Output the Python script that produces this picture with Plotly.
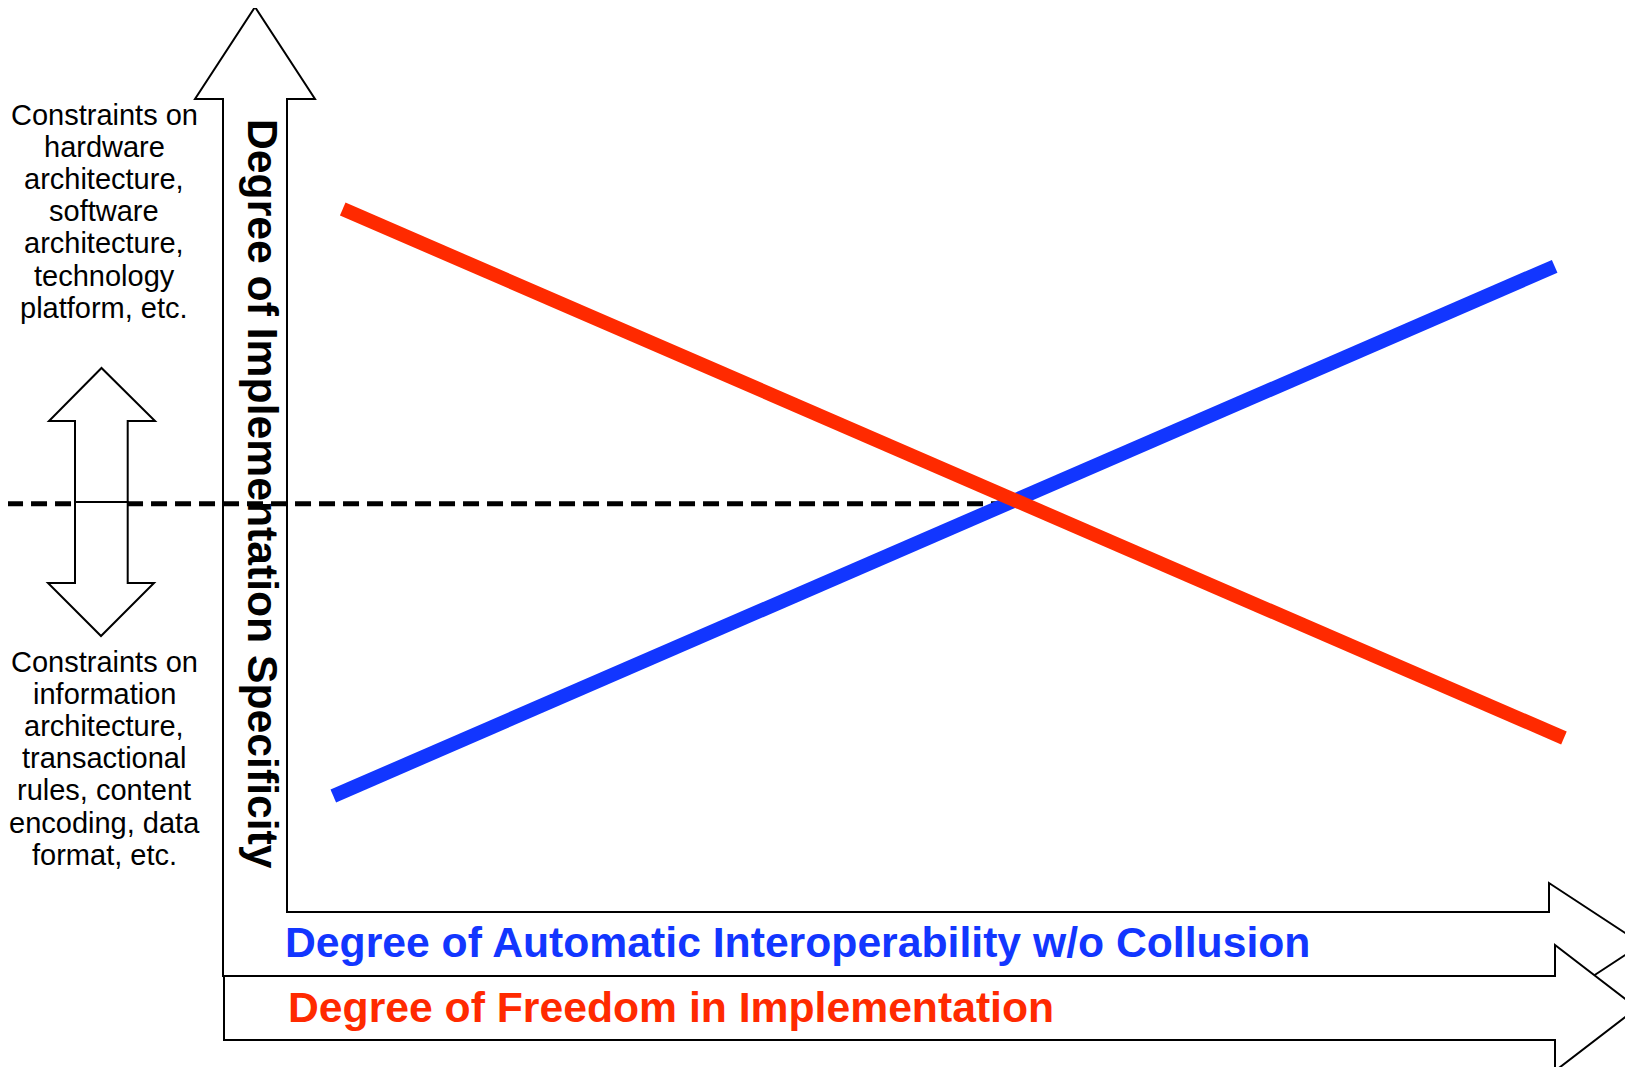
import plotly.graph_objects as go

# ---------------- data ----------------
# conceptual 0-10 scales: x = degree along the horizontal axes, y = implementation specificity
freedom_x = [0.414, 9.487]
freedom_y = [8.647, 2.140]
interop_x = [0.344, 9.418]
interop_y = [1.427, 7.942]
crossover_level = 5.02
dash_x = [-2.08, 5.33]

upper_text = ["Constraints on", "hardware", "architecture,", "software",
              "architecture,", "technology", "platform, etc."]
lower_text = ["Constraints on", "information", "architecture,", "transactional",
              "rules, content", "encoding, data", "format, etc."]
y_title = "Degree of Implementation Specificity"
x_title_blue = "Degree of Automatic Interoperability w/o Collusion"
x_title_red = "Degree of Freedom in Implementation"

# ---------------- styles / layout ----------------
W, H = 1633, 1067
OFF = 8  # default page body margin
RED = "#FF2A00"
BLUE = "#1236FF"
FONT = "Liberation Sans, Arial, sans-serif"

# pixel positions of the data frame (value 0 / value 10)
X0_PX, X10_PX = 287, 1633
Y0_PX, Y10_PX = 912, 99
ux = (X10_PX - X0_PX) / 10.0
uy = (Y0_PX - Y10_PX) / 10.0
x2_range = [(OFF - X0_PX) / ux, (W - X0_PX) / ux]
y2_range = [-(H - Y0_PX) / uy, (Y0_PX - OFF) / uy]

fig = go.Figure()

fig.add_trace(go.Scatter(x=dash_x, y=[crossover_level] * 2, mode="lines",
                         line=dict(color="black", width=5, dash="16px,8px"),
                         xaxis="x2", yaxis="y2", hoverinfo="skip"))
fig.add_trace(go.Scatter(x=interop_x, y=interop_y, mode="lines",
                         line=dict(color=BLUE, width=14),
                         xaxis="x2", yaxis="y2", name="Interoperability"))
fig.add_trace(go.Scatter(x=freedom_x, y=freedom_y, mode="lines",
                         line=dict(color=RED, width=14),
                         xaxis="x2", yaxis="y2", name="Freedom"))


def poly(pts):
    return "M " + " L ".join(f"{x},{y}" for x, y in pts) + " Z"


shapes = []
# L-shaped arrow: vertical axis + first horizontal arrow
big_arrow = [(223, 976), (223, 99), (195, 99), (255, 7), (315, 99), (287, 99),
             (287, 912), (1549, 912), (1549, 883), (1642, 944), (1549, 1005),
             (1549, 976)]
shapes.append(dict(type="path", path=poly(big_arrow), xref="x", yref="y",
                   line=dict(color="black", width=2), fillcolor="rgba(0,0,0,0)",
                   layer="below"))
second_arrow = [(224, 976), (1555, 976), (1555, 945), (1637, 1008), (1555, 1071),
                (1555, 1040), (224, 1040)]
shapes.append(dict(type="path", path=poly(second_arrow), xref="x", yref="y",
                   line=dict(color="black", width=2), fillcolor="white",
                   layer="below"))
up_arrow = [(75, 502), (75, 421), (49, 421), (101.5, 368), (155, 421),
            (127.7, 421), (127.7, 502)]
down_arrow = [(75, 502), (75, 583), (48, 583), (101, 636), (154, 583),
              (127.7, 583), (127.7, 502)]
for a in (up_arrow, down_arrow):
    shapes.append(dict(type="path", path=poly(a), xref="x", yref="y",
                       line=dict(color="black", width=2), fillcolor="white",
                       layer="above"))

annotations = []
LINE_STEP = 32.1
SMALL = 29
BIG = 42.7
for i, t in enumerate(upper_text):
    annotations.append(dict(x=104, y=115 + i * LINE_STEP, text=t, showarrow=False,
                            xref="x", yref="y", xanchor="center", yanchor="middle",
                            font=dict(family=FONT, size=SMALL, color="black")))
for i, t in enumerate(lower_text):
    annotations.append(dict(x=104, y=662 + i * LINE_STEP, text=t, showarrow=False,
                            xref="x", yref="y", xanchor="center", yanchor="middle",
                            font=dict(family=FONT, size=SMALL, color="black")))
annotations.append(dict(x=263, y=494, text="<b>%s</b>" % y_title, textangle=90,
                        showarrow=False, xref="x", yref="y",
                        xanchor="center", yanchor="middle",
                        font=dict(family=FONT, size=BIG, color="black")))
annotations.append(dict(x=283, y=942, text="<b>%s</b>" % x_title_blue,
                        showarrow=False, xref="x", yref="y",
                        xanchor="left", yanchor="middle",
                        font=dict(family=FONT, size=BIG, color=BLUE)))
annotations.append(dict(x=286, y=1007, text="<b>%s</b>" % x_title_red,
                        showarrow=False, xref="x", yref="y",
                        xanchor="left", yanchor="middle",
                        font=dict(family=FONT, size=BIG, color=RED)))

fig.update_layout(
    width=W - OFF, height=H - OFF, margin=dict(l=0, r=0, t=0, b=0),
    paper_bgcolor="white", plot_bgcolor="white", showlegend=False,
    xaxis=dict(range=[OFF, W], visible=False, domain=[0, 1], fixedrange=True),
    yaxis=dict(range=[H, OFF], visible=False, domain=[0, 1], fixedrange=True),
    xaxis2=dict(range=x2_range, visible=False, overlaying="x", anchor="y2",
                fixedrange=True),
    yaxis2=dict(range=y2_range, visible=False, overlaying="y", anchor="x2",
                fixedrange=True),
    shapes=shapes, annotations=annotations,
)

fig.write_html("out.html")
